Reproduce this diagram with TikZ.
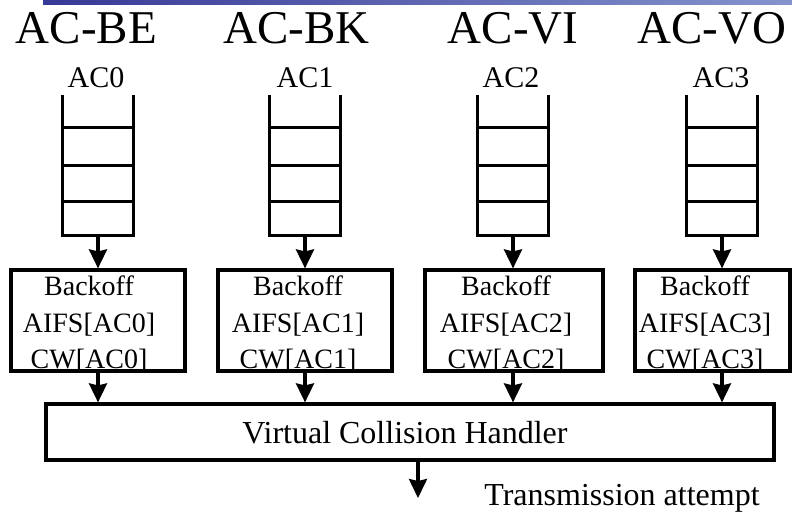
\documentclass[tikz,border=0pt]{standalone}
\usepackage{fontspec}
\setmainfont{Liberation Serif}
\usetikzlibrary{arrows.meta}
\definecolor{barL}{RGB}{56,56,150}
\definecolor{barR}{RGB}{132,148,204}
\begin{document}
\begin{tikzpicture}[x=1pt,y=-1pt,
  title/.style={anchor=base,inner sep=0pt,font=\fontsize{47}{47}\selectfont},
  qlabel/.style={anchor=base,inner sep=0pt,font=\fontsize{30}{30}\selectfont},
  btext/.style={anchor=base,inner sep=0pt,font=\fontsize{28}{28}\selectfont},
  btext2/.style={anchor=base,inner sep=0pt,font=\fontsize{32}{32}\selectfont},
  qbody/.style={inner sep=0pt,minimum width=70pt,minimum height=140pt},
  bobox/.style={draw,line width=3.2pt,inner sep=0pt,minimum height=101pt},
  qline/.style={line width=3pt},
  arr/.style={line width=3.2pt,-{Stealth[width=18pt,length=19pt,inset=2pt]}}
]
\useasboundingbox (0,0) rectangle (792,512);
\shade[left color=barL,right color=barR] (43,0) rectangle (792,4);

% titles
\node[title] (t0) at (86.5,43) {AC-BE};
\node[title] (t1) at (296.5,43) {AC-BK};
\node[title] (t2) at (513,43) {AC-VI};
\node[title] (t3) at (712,43) {AC-VO};

% queue labels
\node[qlabel] (l0) at (96,87) {AC0};
\node[qlabel] (l1) at (305,87) {AC1};
\node[qlabel] (l2) at (511,87) {AC2};
\node[qlabel] (l3) at (721,87) {AC3};

% queues
\foreach \i/\x in {0/98,1/305,2/513,3/722}{
  \node[qbody] (q\i) at (\x,165) {};
  \draw[qline] (q\i.north west) -- (q\i.south west) -- (q\i.south east) -- (q\i.north east);
  \draw[qline] ([yshift=-33pt]q\i.north west) -- ([yshift=-33pt]q\i.north east);
  \draw[qline] ([yshift=-71pt]q\i.north west) -- ([yshift=-71pt]q\i.north east);
  \draw[qline] ([yshift=-107pt]q\i.north west) -- ([yshift=-107pt]q\i.north east);
}

% backoff box texts
\foreach \i/\x in {0/89,1/298,2/506,3/705}{
  \node[btext] (bk\i) at (\x,295) {Backoff};
  \node[btext] (ai\i) at (\x,332) {AIFS[AC\i]};
  \node[btext] (cw\i) at (\x,368) {CW[AC\i]};
}

% backoff boxes
\node[bobox,minimum width=174pt] (b0) at (98,320.5) {};
\node[bobox,minimum width=174pt] (b1) at (305,320.5) {};
\node[bobox,minimum width=178pt] (b2) at (514,320.5) {};
\node[bobox,minimum width=155pt] (b3) at (712.5,320.5) {};

% virtual collision handler
\node[draw,line width=3.2pt,minimum width=728pt,minimum height=56pt,inner sep=0pt] (vch) at (410,432) {};
\node[btext2] (vcht) at (405,443) {Virtual Collision Handler};

% arrows
\foreach \i in {0,1,2,3}{
  \draw[arr] (q\i.south) -- (q\i.south |- b\i.north);
  \draw[arr] (q\i.south |- b\i.south) -- (q\i.south |- vch.north);
}
\coordinate (tx) at (418,498);
\draw[arr] (vch.south -| tx) -- (tx);
\node[btext2] (txt) at (622,505) {Transmission attempt};
\end{tikzpicture}
\end{document}
